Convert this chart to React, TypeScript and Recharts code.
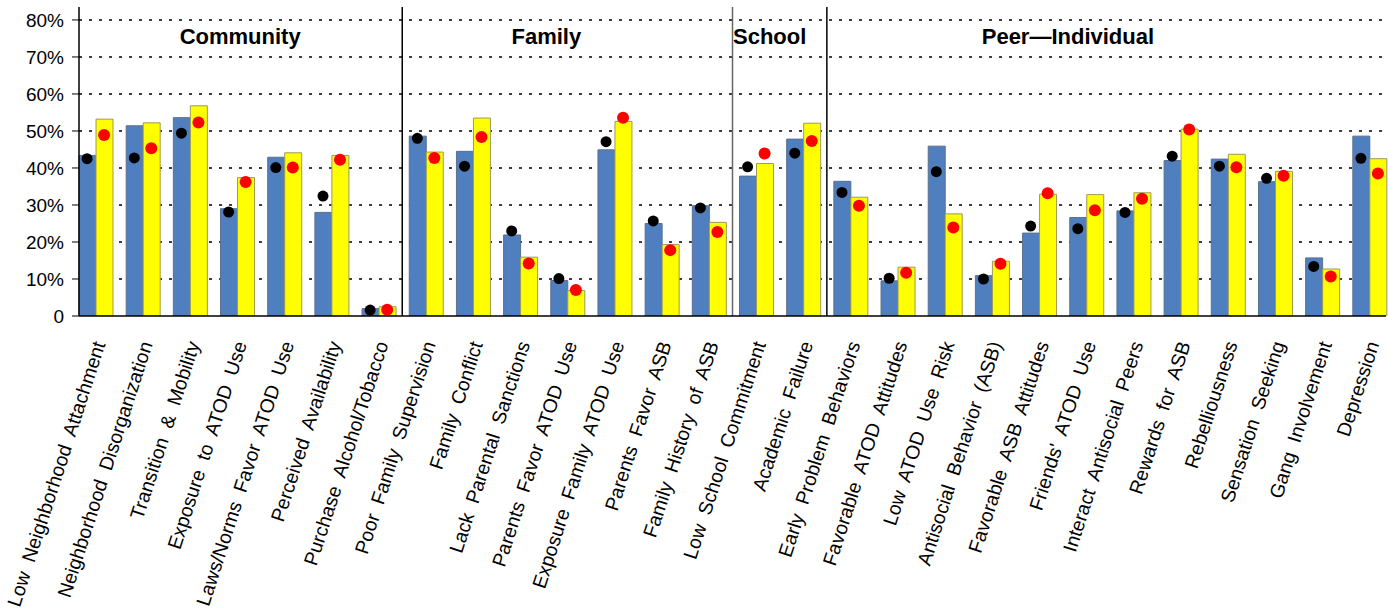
import React from "react";
import {
  ComposedChart, Bar, Line, XAxis, YAxis, CartesianGrid,
  ReferenceLine, ReferenceArea,
} from "recharts";

const categories = [
  "Low  Neighborhood  Attachment",
  "Neighborhood  Disorganization",
  "Transition  &  Mobility",
  "Exposure  to  ATOD  Use",
  "Laws/Norms  Favor  ATOD  Use",
  "Perceived  Availability",
  "Purchase  Alcohol/Tobacco",
  "Poor  Family  Supervision",
  "Family  Conflict",
  "Lack  Parental  Sanctions",
  "Parents  Favor  ATOD  Use",
  "Exposure  Family  ATOD  Use",
  "Parents  Favor  ASB",
  "Family  History  of  ASB",
  "Low  School  Commitment",
  "Academic  Failure",
  "Early  Problem  Behaviors",
  "Favorable  ATOD  Attitudes",
  "Low  ATOD  Use  Risk",
  "Antisocial  Behavior  (ASB)",
  "Favorable  ASB  Attitudes",
  "Friends'  ATOD  Use",
  "Interact  Antisocial  Peers",
  "Rewards  for  ASB",
  "Rebelliousness",
  "Sensation  Seeking",
  "Gang  Involvement",
  "Depression",
];

// blue bars
const blueBars = [
  43.4, 51.4, 53.6, 29.0, 42.9, 28.0, 2.0,
  48.6, 44.5, 21.9, 9.6, 44.9, 25.0, 29.8,
  37.8, 47.8,
  36.4, 9.5, 45.9, 10.9, 22.4, 26.6, 28.4, 42.0, 42.4, 36.3, 15.7, 48.6,
];
// yellow bars
const yellowBars = [
  53.2, 52.2, 56.8, 37.4, 44.1, 43.4, 2.5,
  44.3, 53.5, 15.9, 6.9, 52.6, 19.3, 25.3,
  41.2, 52.1,
  32.1, 13.2, 27.6, 14.8, 32.9, 32.8, 33.3, 50.5, 43.7, 39.1, 12.7, 42.5,
];
// black dots
const blackDots = [
  42.5, 42.7, 49.4, 28.1, 40.1, 32.4, 1.6,
  48.0, 40.5, 23.0, 10.1, 47.1, 25.7, 29.2,
  40.3, 44.0,
  33.4, 10.2, 39.0, 10.0, 24.3, 23.6, 28.0, 43.2, 40.5, 37.2, 13.4, 42.6,
];
// red dots
const redDots = [
  48.9, 45.3, 52.3, 36.2, 40.1, 42.2, 1.7,
  42.7, 48.4, 14.2, 7.0, 53.6, 17.8, 22.7,
  43.9, 47.3,
  29.8, 11.7, 23.9, 14.1, 33.2, 28.6, 31.7, 50.4, 40.2, 37.9, 10.7, 38.5,
];

const groupNames = ["Community", "Family", "School", "Peer\u2014Individual"];
const groupSizes = [7, 7, 2, 12];

const yTicks = [0, 10, 20, 30, 40, 50, 60, 70, 80];

const data = categories.map((name, i) => ({
  name,
  blue: blueBars[i],
  yellow: yellowBars[i],
  black: blackDots[i],
  red: redDots[i],
}));

const groups = groupNames.map((label, g) => {
  const start = groupSizes.slice(0, g).reduce((a, b) => a + b, 0);
  return { label, first: categories[start], last: categories[start + groupSizes[g] - 1] };
});

const labelShift: Record<string, number> = {
  Community: 3,
  Family: -21,
  School: -10,
  "Peer\u2014Individual": -42,
};

const FONT = "'Liberation Sans', Arial, Helvetica, sans-serif";
const BAR_W = 17;

function makeDot(color: string, dx: number, r: number) {
  return (props: any) => {
    const { cx, cy, index } = props;
    if (cx == null || cy == null) return <g key={index} />;
    return <circle key={index} cx={cx + dx} cy={cy} r={r} fill={color} />;
  };
}

function AngledTick(props: any) {
  const { x, y, payload } = props;
  return (
    <text
      transform={`translate(${x + 10},${y + 26}) rotate(-72)`}
      textAnchor="end"
      fontSize={19.5}
      fontFamily={FONT}
      fill="#000"
      style={{ whiteSpace: "pre" }}
    >
      {payload.value}
    </text>
  );
}

export default function App() {
  return (
    <div style={{ position: "absolute", left: 0, top: 0, width: 1388, height: 614, background: "#fff" }}>
      <ComposedChart
        width={1388}
        height={614}
        data={data}
        margin={{ top: 7, right: 2, left: 0, bottom: 0 }}
        barGap={0}
        barSize={BAR_W}
      >
        <CartesianGrid
          horizontal
          vertical={false}
          stroke="#000"
          strokeWidth={1.5}
          strokeDasharray="3 7"
          horizontalValues={[10, 20, 30, 40, 50, 60, 70, 80]}
        />
        <XAxis
          dataKey="name"
          interval={0}
          height={298}
          tickLine={false}
          tickSize={0}
          padding={{ left: -7, right: -7 }}
          axisLine={{ stroke: "#000", strokeWidth: 1.5 }}
          tick={<AngledTick />}
        />
        <XAxis
          xAxisId="top"
          orientation="top"
          dataKey="name"
          height={0}
          tick={false}
          tickLine={false}
          axisLine={{ stroke: "#000", strokeWidth: 1.5 }}
        />
        <YAxis
          domain={[0, 83.5]}
          ticks={yTicks}
          width={79}
          interval={0}
          allowDataOverflow
          tickSize={7}
          tickMargin={8}
          tickLine={{ stroke: "#000" }}
          axisLine={{ stroke: "#000", strokeWidth: 1.5 }}
          tick={{ fill: "#000", fontSize: 19, fontFamily: FONT }}
          tickFormatter={(v: number) => (v === 0 ? "0" : `${v}%`)}
        />
        <YAxis
          yAxisId="right"
          orientation="right"
          width={0}
          tick={false}
          tickLine={false}
          axisLine={{ stroke: "#000", strokeWidth: 1.5 }}
        />
        <Bar dataKey="blue" fill="#4F7FBF" stroke="#5B6F8C" strokeWidth={1} isAnimationActive={false} />
        <Bar dataKey="yellow" fill="#FFFF00" stroke="#9C9A5A" strokeWidth={1} isAnimationActive={false} />
        <Line
          dataKey="black"
          stroke="none"
          dot={makeDot("#000", -BAR_W / 2, 5.5)}
          activeDot={false}
          isAnimationActive={false}
        />
        <Line
          dataKey="red"
          stroke="none"
          dot={makeDot("#FF0000", BAR_W / 2, 6)}
          activeDot={false}
          isAnimationActive={false}
        />
        {groups.slice(1).map((g, i) => (
          <ReferenceLine
            key={g.label}
            x={g.first}
            position="start"
            stroke={i === 1 ? "#666" : "#000"}
            strokeWidth={1.5}
          />
        ))}
        {groups.map((g) => (
          <ReferenceArea
            key={g.label}
            x1={g.first}
            x2={g.last}
            y1={0}
            y2={83.5}
            fill="none"
            stroke="none"
            label={{
              value: g.label,
              position: "insideTop",
              offset: 21,
              dx: labelShift[g.label],
              fill: "#000",
              fontSize: 22,
              fontWeight: "bold",
              fontFamily: FONT,
            }}
          />
        ))}
      </ComposedChart>
    </div>
  );
}
